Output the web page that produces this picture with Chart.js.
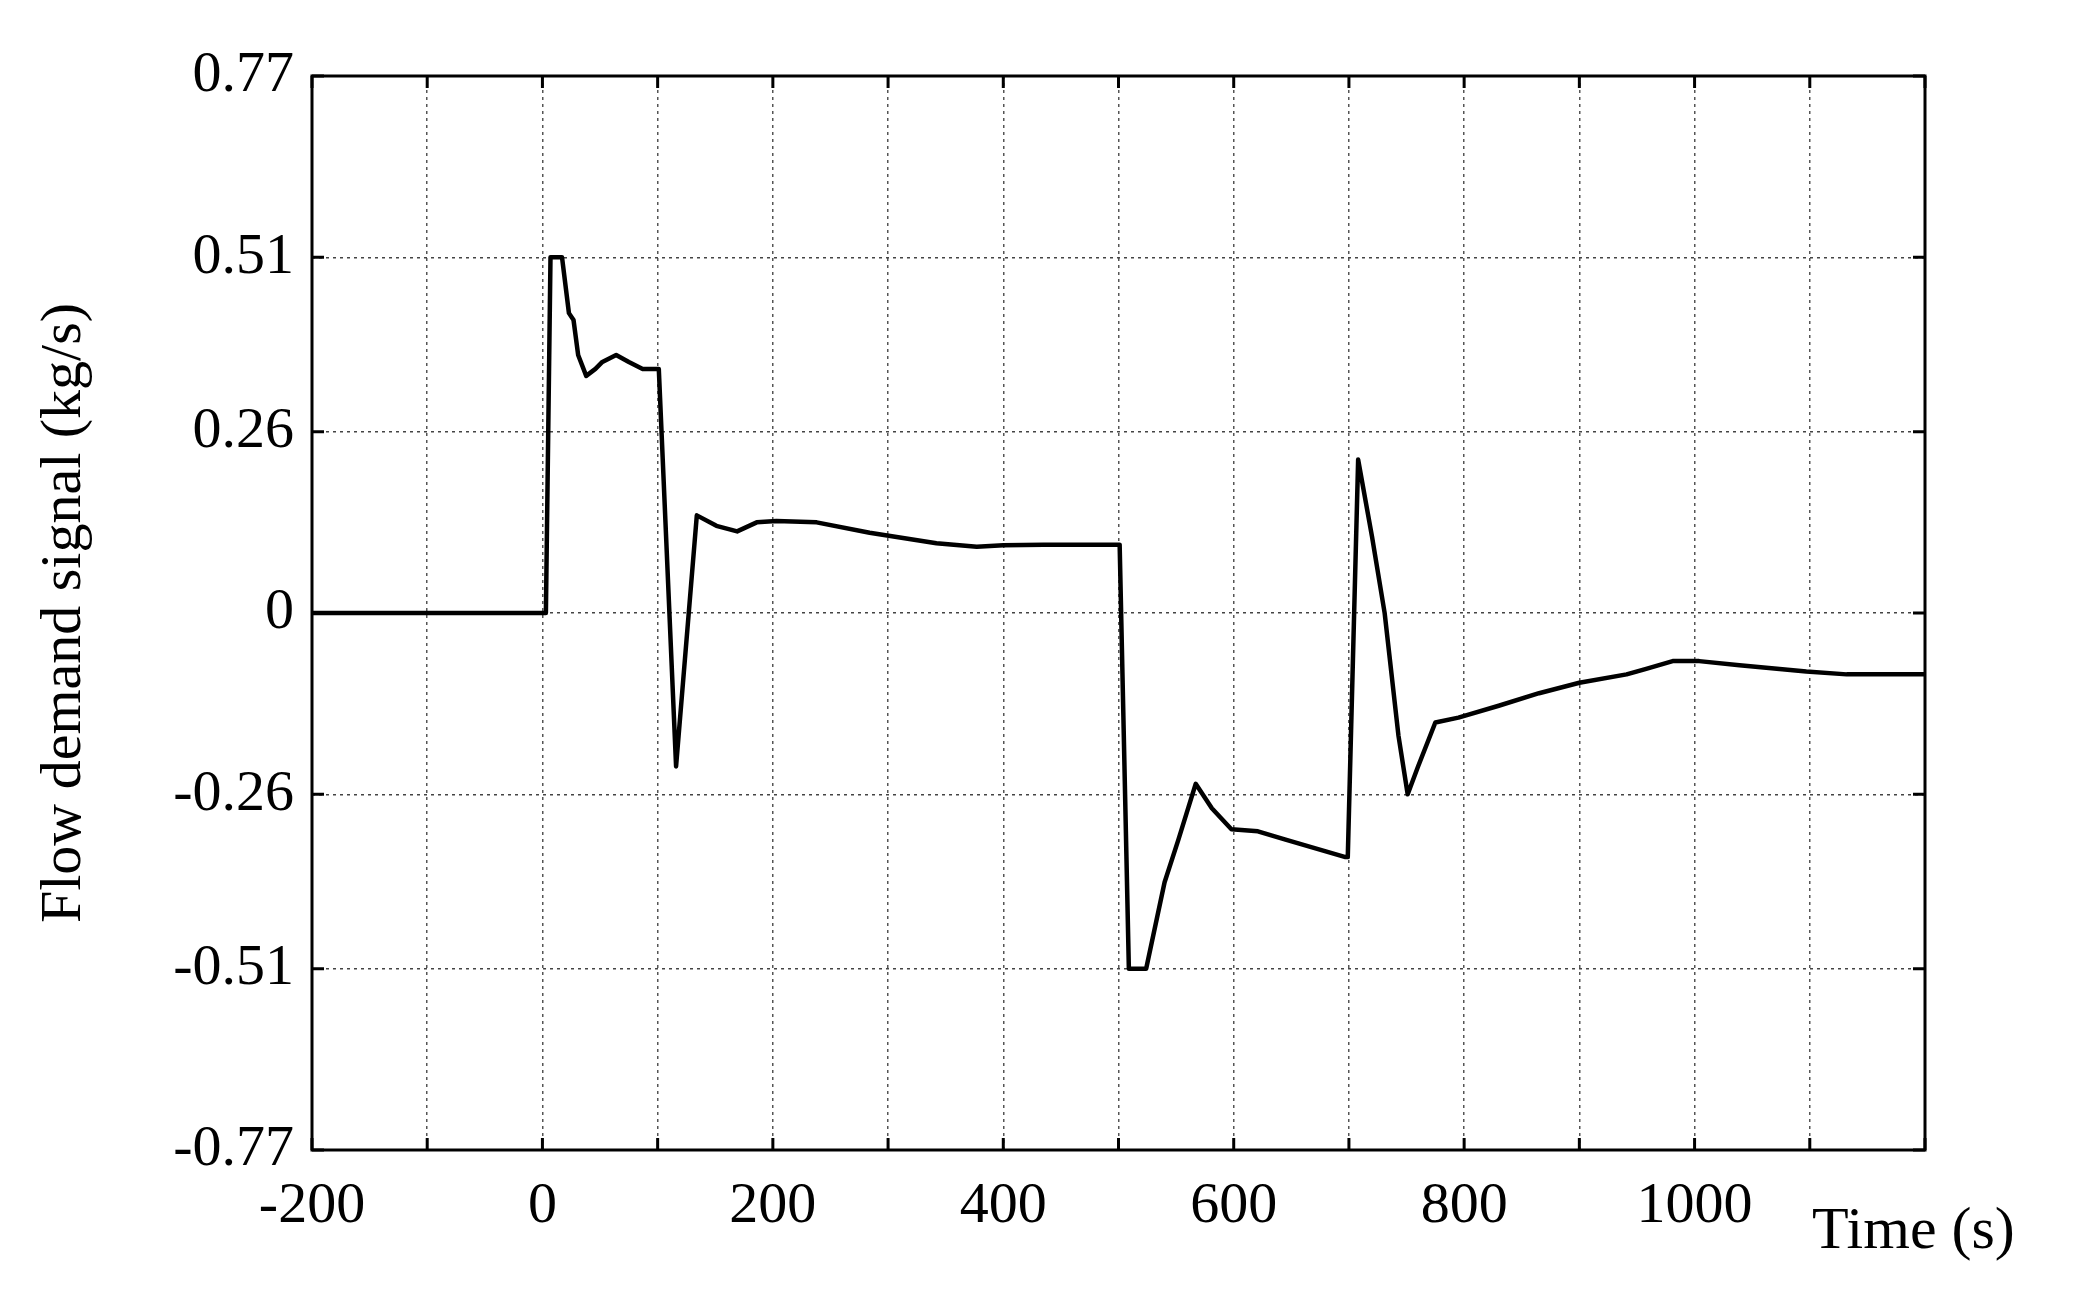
<!DOCTYPE html>
<html><head><meta charset="utf-8">
<script src="https://cdn.jsdelivr.net/npm/chart.js@4/dist/chart.umd.min.js"></script>
<style>html,body{margin:0;background:#fff}#w{width:2092px;height:1300px}</style>
</head><body><div id="w"><canvas id="c"></canvas></div>
<script>
const timeS = [-200,0,3,7,17,23,27,31,38,46,52,64,75,87,99,101,116,134,151,169,186,203,238,284,342,377,400,435,499,501,509,524,540,552,567,581,598,621,645,668,697,699,708,720,731,743,751,760,775,795,830,865,900,941,958,981,1004,1039,1097,1132,1200];
const flow  = [0,0,0,0.51,0.51,0.43,0.42,0.37,0.34,0.35,0.36,0.37,0.36,0.35,0.35,0.35,-0.22,0.14,0.125,0.117,0.13,0.132,0.13,0.115,0.10,0.095,0.097,0.098,0.098,0.098,-0.51,-0.51,-0.386,-0.325,-0.245,-0.28,-0.31,-0.313,-0.325,-0.336,-0.35,-0.35,0.22,0.11,0,-0.176,-0.26,-0.22,-0.157,-0.15,-0.133,-0.115,-0.10,-0.088,-0.08,-0.069,-0.069,-0.075,-0.084,-0.088,-0.088];
const yTicks = [-0.77,-0.51,-0.26,0,0.26,0.51,0.77];
const xTickLabels = [-200,0,200,400,600,800,1000];
const FONT = "'Liberation Serif', serif";
const frame = {id:'frame', afterDraw(ch){const a=ch.chartArea,c=ch.ctx;c.save();c.strokeStyle='#000';c.lineWidth=3;c.strokeRect(a.left,a.top,a.right-a.left,a.bottom-a.top);
 c.lineWidth=3;c.beginPath();
 ch.scales.y.ticks.forEach(t=>{const y=ch.scales.y.getPixelForValue(t.value);c.moveTo(a.left,y);c.lineTo(a.left+12,y);c.moveTo(a.right,y);c.lineTo(a.right-12,y);});
 for(let v=-200;v<=1200;v+=100){const x=ch.scales.x.getPixelForValue(v);c.moveTo(x,a.bottom);c.lineTo(x,a.bottom-12);c.moveTo(x,a.top);c.lineTo(x,a.top+12);}
 c.stroke();
 c.fillStyle='#000';c.font='60px '+FONT;c.textAlign='left';c.textBaseline='middle';c.fillText('Time (s)',1812,1232);c.restore();}};
new Chart(document.getElementById('c'),{type:'line',
 data:{datasets:[{data:timeS.map((t,i)=>({x:t,y:flow[i]})),borderColor:'#000',borderWidth:4.5,pointRadius:0,tension:0,borderJoinStyle:'round'}]},
 options:{responsive:true,maintainAspectRatio:false,animation:false,
  layout:{padding:{top:76,right:167,left:0,bottom:0}},
  plugins:{legend:{display:false},tooltip:{enabled:false}},
  scales:{
   x:{type:'linear',min:-200,max:1200,
    afterBuildTicks(s){s.ticks=[];for(let v=-200;v<=1200;v+=100)s.ticks.push({value:v});},
    afterFit(s){s.height=150;},
    grid:{color:'#555',lineWidth:1.5,drawTicks:false},border:{display:false,dash:[3,4]},
    ticks:{autoSkip:false,maxRotation:0,padding:22,color:'#000',font:{family:FONT,size:58},callback:v=>xTickLabels.includes(v)?String(v):''}},
   y:{type:'linear',min:-0.77,max:0.77,
    afterBuildTicks(s){s.ticks=yTicks.map(v=>({value:v}));},
    afterFit(s){s.width=312;},
    grid:{color:'#444',lineWidth:1.5,drawTicks:false},border:{display:false,dash:[3,4]},
    title:{display:true,text:'Flow demand signal (kg/s)',color:'#000',font:{family:FONT,size:58},padding:{top:30,bottom:0}},
    ticks:{padding:18,color:'#000',font:{family:FONT,size:58},callback:v=>String(v)}}
  }},
 plugins:[frame]});
</script></body></html>
